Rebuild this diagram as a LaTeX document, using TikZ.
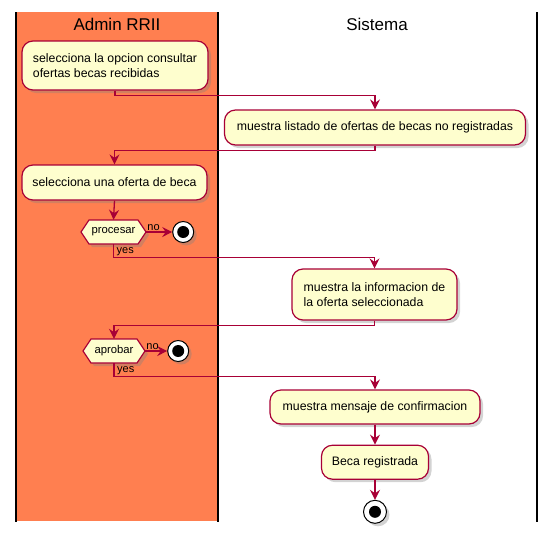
\documentclass[tikz,border=0pt]{standalone}
\usepackage{fontspec}
\setmainfont{Liberation Sans}
\usetikzlibrary{arrows.meta,positioning,shadows}
\definecolor{umlred}{HTML}{A80036}
\definecolor{umlfill}{HTML}{FEFECE}
\definecolor{lanecoral}{HTML}{FF7F50}

\begin{document}
\begin{tikzpicture}[x=1pt,y=-1pt,
    act/.style={draw=umlred, fill=umlfill, line width=1.2pt, rounded corners=11pt,
      align=left, inner xsep=9pt, font=\fontsize{12.3}{15}\selectfont,
      drop shadow={opacity=0.35, shadow xshift=3pt, shadow yshift=-3pt}},
    hexa/.style={draw=umlred, fill=umlfill, line width=1.2pt,
      drop shadow={opacity=0.35, shadow xshift=3pt, shadow yshift=-3pt}},
    choice/.style={minimum height=24pt, inner sep=0pt, font=\fontsize{11.3}{13}\selectfont},
    stopdot/.style={circle, draw=black, fill=white, line width=1pt, minimum size=21pt,
      inner sep=0pt, drop shadow={opacity=0.35, shadow xshift=3pt, shadow yshift=-3pt},
      path picture={\fill[black] (path picture bounding box.center) circle (6pt);}},
    flow/.style={draw=umlred, line width=1.3pt, -{Stealth[length=10pt,width=10pt,inset=3.5pt]}},
    lbl/.style={font=\fontsize{11}{12}\selectfont, inner sep=0pt},
    lanehead/.style={font=\fontsize{17}{20}\selectfont}]
  \useasboundingbox (0,0) rectangle (553,536);

  % carriles
  \fill[lanecoral] (16,12) rectangle (218,521);
  \draw[line width=1.3pt] (16,12) -- (16,522);
  \draw[line width=1.3pt] (218,12) -- (218,522);
  \draw[line width=1.3pt] (537,12) -- (537,522);
  \node[lanehead] (admin) at (117,24) {Admin RRII};
  \node[lanehead] (sistema) at (377,24) {Sistema};

  % actividades
  \node[act, minimum width=186pt, minimum height=49pt] (consulta) at (115,65.5)
    {selecciona la opcion consultar\\ofertas becas recibidas};
  \node[act, minimum width=301pt, minimum height=35pt] (listado) at (375,127.5)
    {muestra listado de ofertas de becas no registradas};
  \node[act, minimum width=185pt, minimum height=35pt] (oferta) at (114.5,182.5)
    {selecciona una oferta de beca};

  % decision procesar
  \filldraw[hexa] (81,232) -- (89,220) -- (138,220) -- (146,232) -- (138,244) -- (89,244) -- cycle;
  \node[choice, minimum width=65pt] (procesar) at (113.5,232) {procesar};
  \node[stopdot] (fin1) [right=26pt of procesar] {};

  \node[act, minimum width=165pt, minimum height=51pt] (info) at (374.5,294.5)
    {muestra la informacion de\\la oferta seleccionada};

  % decision aprobar
  \filldraw[hexa] (83,351) -- (91,339) -- (137,339) -- (145,351) -- (137,363) -- (91,363) -- cycle;
  \node[choice, minimum width=62pt] (aprobar) at (114,351) {aprobar};
  \node[stopdot] (fin2) [right=22pt of aprobar] {};

  \node[act, minimum width=210pt, minimum height=34pt] (mensaje) at (375,407)
    {muestra mensaje de confirmacion};
  \node[act, minimum width=107pt, minimum height=34pt] (beca) [below=20pt of mensaje]
    {Beca registrada};
  \node[stopdot, minimum size=23pt] (fin) [below=20pt of beca] {};

  % flujo
  \draw[flow] (consulta.south) -- ++(0,5) -| (listado.north);
  \draw[flow] (listado.south) -- ++(0,5) -| (oferta.north);
  \draw[flow] (oferta.south) -- (procesar.north);
  \draw[flow] (procesar.east) -- (fin1.west);
  \node[lbl, anchor=south west] (no1) at ([xshift=1pt,yshift=1pt]procesar.east) {no};
  \draw[flow] (procesar.south) -- ++(0,13) -| (info.north);
  \node[lbl, anchor=north west] (si1) at ([xshift=3pt,yshift=-3pt]procesar.south) {yes};
  \draw[flow] (info.south) -- ++(0,5) -| (aprobar.north);
  \draw[flow] (aprobar.east) -- (fin2.west);
  \node[lbl, anchor=south west] (no2) at ([xshift=1pt,yshift=1pt]aprobar.east) {no};
  \draw[flow] (aprobar.south) -- ++(0,13.5) -| (mensaje.north);
  \node[lbl, anchor=north west] (si2) at ([xshift=3pt,yshift=-3pt]aprobar.south) {yes};
  \draw[flow] (mensaje.south) -- (beca.north);
  \draw[flow] (beca.south) -- (fin.north);
\end{tikzpicture}
\end{document}
